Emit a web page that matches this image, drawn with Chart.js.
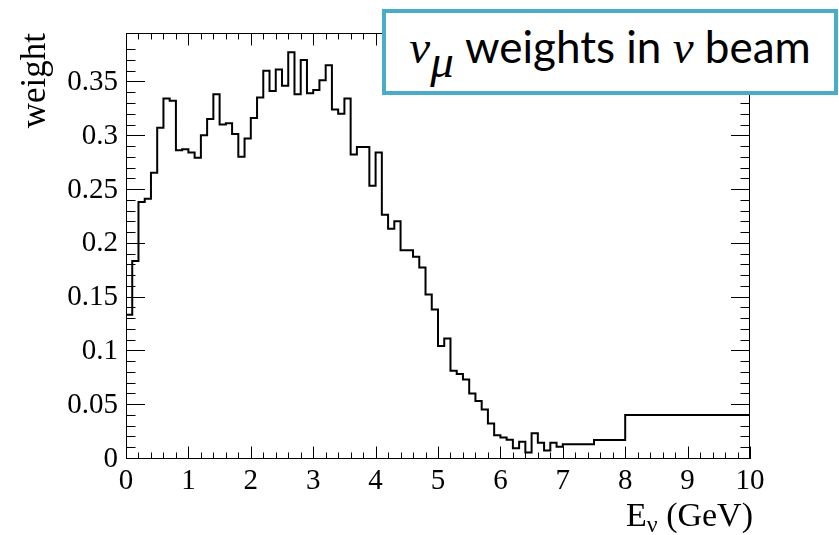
<!DOCTYPE html>
<html>
<head>
<meta charset="utf-8">
<script src="https://cdn.jsdelivr.net/npm/chart.js@4/dist/chart.umd.min.js"></script>
<style>
  body { margin: 0; background: #fff; }
  #wrap { position: relative; width: 839px; height: 535px; }
  #box {
    position: absolute; left: 382px; top: 9px; width: 456px; height: 86px;
    box-sizing: border-box; border: 4px solid #4bacc6; background: #fff;
    display: flex; align-items: center; justify-content: center;
    font-family: Lato, sans-serif; font-size: 44px; color: #000; white-space: nowrap;
  }
  #box .g { font-family: "Liberation Serif", serif; font-style: italic; font-size: 47px; }
  #box sub { font-size: 34px; position: relative; top: 4px; }
</style>
</head>
<body>
<div id="wrap">
  <canvas id="weightChart"></canvas>
  <div id="box"><span><span class="g">ν</span><sub class="g">μ</sub> weights in <span class="g">ν</span> beam</span></div>
</div>

<script>
// =======================================================
// Données (lues sur l'histogramme)
// =======================================================

// bords des bins en E_nu (GeV)
const edges = [
  0.0, 0.1, 0.2, 0.3, 0.4, 0.5, 0.6, 0.7, 0.8, 0.9,
  1.0, 1.1, 1.2, 1.3, 1.4, 1.5, 1.6, 1.7, 1.8, 1.9,
  2.0, 2.1, 2.2, 2.3, 2.4, 2.5, 2.6, 2.7, 2.8, 2.9,
  3.0, 3.1, 3.2, 3.3, 3.4, 3.5, 3.6, 3.7, 3.8, 3.9,
  4.0, 4.1, 4.2, 4.3, 4.4, 4.5, 4.6, 4.7, 4.8, 4.9,
  5.0, 5.1, 5.2, 5.3, 5.4, 5.5, 5.6, 5.7, 5.8, 5.9,
  6.0, 6.1, 6.2, 6.3, 6.4, 6.5, 6.6, 6.7, 6.8, 6.9,
  7.0, 7.5, 8.0, 10.0
];

// poids par bin
const weights = [
  0.134, 0.184, 0.239, 0.242, 0.266, 0.308, 0.335, 0.333, 0.287, 0.288,
  0.285, 0.280, 0.301, 0.316, 0.339, 0.311, 0.312, 0.302, 0.281, 0.298,
  0.317, 0.336, 0.361, 0.342, 0.362, 0.347, 0.378, 0.339, 0.371, 0.340,
  0.343, 0.352, 0.366, 0.325, 0.321, 0.335, 0.283, 0.290, 0.290, 0.254,
  0.285, 0.227, 0.214, 0.221, 0.194, 0.194, 0.188, 0.178, 0.153, 0.139,
  0.105, 0.112, 0.082, 0.079, 0.074, 0.061, 0.054, 0.046, 0.033, 0.022,
  0.020, 0.018, 0.010, 0.016, 0.006, 0.024, 0.015, 0.008, 0.015, 0.0115,
  0.0136, 0.0177, 0.041
];

const xRange = [0, 10];
const yRange = [0, 0.396];
const yTitle = "weight";
const xTitle = ["E", "ν", " (GeV)"];


// =======================================================
// Cadre, graduations internes et titre de l'axe x (style ROOT)
// =======================================================

const rootFrame = {

    id: "rootFrame",

    afterDatasetsDraw(chart){

        const {ctx, chartArea: a, scales} = chart;

        ctx.save();
        ctx.strokeStyle = "#000";
        ctx.lineWidth = 1;
        ctx.beginPath();

        scales.x.ticks.forEach(t => {
            const v = t.value;
            const major = Math.abs(v - Math.round(v)) < 1e-6;
            const len = major ? 12.5 : 6.5;
            const px = Math.round(scales.x.getPixelForValue(v)) + 0.5;
            ctx.moveTo(px, a.bottom); ctx.lineTo(px, a.bottom - len);
            ctx.moveTo(px, a.top);    ctx.lineTo(px, a.top + len);
        });

        scales.y.ticks.forEach(t => {
            const n = t.value * 100;
            if (Math.abs(n - Math.round(n)) > 1e-6) return;
            const major = Math.round(n) % 5 === 0;
            const len = major ? 19 : 9.5;
            const py = Math.round(scales.y.getPixelForValue(t.value)) - 0.5;
            ctx.moveTo(a.left, py);  ctx.lineTo(a.left + len, py);
            ctx.moveTo(a.right, py); ctx.lineTo(a.right - len, py);
        });

        ctx.stroke();
        ctx.strokeRect(a.left + 0.5, a.top + 0.5, a.width - 1, a.height - 1);

        // titre x avec indice
        const big = "34px 'Liberation Serif'";
        const small = "24px 'Liberation Serif'";
        ctx.fillStyle = "#000";
        ctx.textBaseline = "alphabetic";
        ctx.font = big;
        const w0 = ctx.measureText(xTitle[0]).width;
        const w2 = ctx.measureText(xTitle[2]).width;
        ctx.font = small;
        const w1 = ctx.measureText(xTitle[1]).width;
        let x = a.right + 3 - (w0 + w1 + w2);
        const base = 526;
        ctx.font = big;   ctx.fillText(xTitle[0], x, base); x += w0;
        ctx.font = small; ctx.fillText(xTitle[1], x, base + 6); x += w1;
        ctx.font = big;   ctx.fillText(xTitle[2], x, base);

        ctx.restore();

    }

};


// =======================================================
// Histogramme
// =======================================================

function drawHistogram(){

    Chart.defaults.font.family = "'Liberation Serif', serif";
    Chart.defaults.color = "#000";

    const points = edges.map((e, i) => ({x: e, y: weights[Math.min(i, weights.length - 1)]}));

    new Chart(document.getElementById("weightChart"), {

        type: "line",

        data: {
            datasets: [{
                data: points,
                stepped: true,
                borderColor: "#000",
                borderWidth: 2,
                pointRadius: 0,
                fill: false
            }]
        },

        options: {

            responsive: true,
            maintainAspectRatio: false,
            animation: false,

            layout: { padding: {top: 33, right: 89, bottom: 0, left: 0} },

            plugins: {
                legend: {display: false},
                tooltip: {enabled: false}
            },

            scales: {

                x: {
                    type: "linear",
                    min: xRange[0],
                    max: xRange[1],
                    grid: {display: false, drawTicks: false},
                    border: {display: false},
                    afterFit: s => { s.height = 76; },
                    ticks: {
                        stepSize: 0.2,
                        maxTicksLimit: 200,
                        autoSkip: false,
                        maxRotation: 0,
                        padding: 5,
                        font: {size: 29},
                        callback: v => Math.abs(v - Math.round(v)) < 1e-6 ? String(Math.round(v)) : ""
                    }
                },

                y: {
                    min: yRange[0],
                    max: yRange[1],
                    grid: {display: false, drawTicks: false},
                    border: {display: false},
                    afterFit: s => { s.width = 126; },
                    title: {
                        display: true,
                        text: yTitle,
                        align: "end",
                        font: {size: 35},
                        padding: {top: 15, bottom: 0}
                    },
                    ticks: {
                        stepSize: 0.01,
                        maxTicksLimit: 200,
                        autoSkip: false,
                        padding: 8,
                        font: {size: 29},
                        callback: v => {
                            const n = v * 100;
                            const r = Math.round(n);
                            if (Math.abs(n - r) > 1e-6 || r % 5 !== 0) return "";
                            return String(r / 100);
                        }
                    }
                }

            }

        },

        plugins: [rootFrame]

    });

}

window.addEventListener("load", drawHistogram);
</script>
</body>
</html>
